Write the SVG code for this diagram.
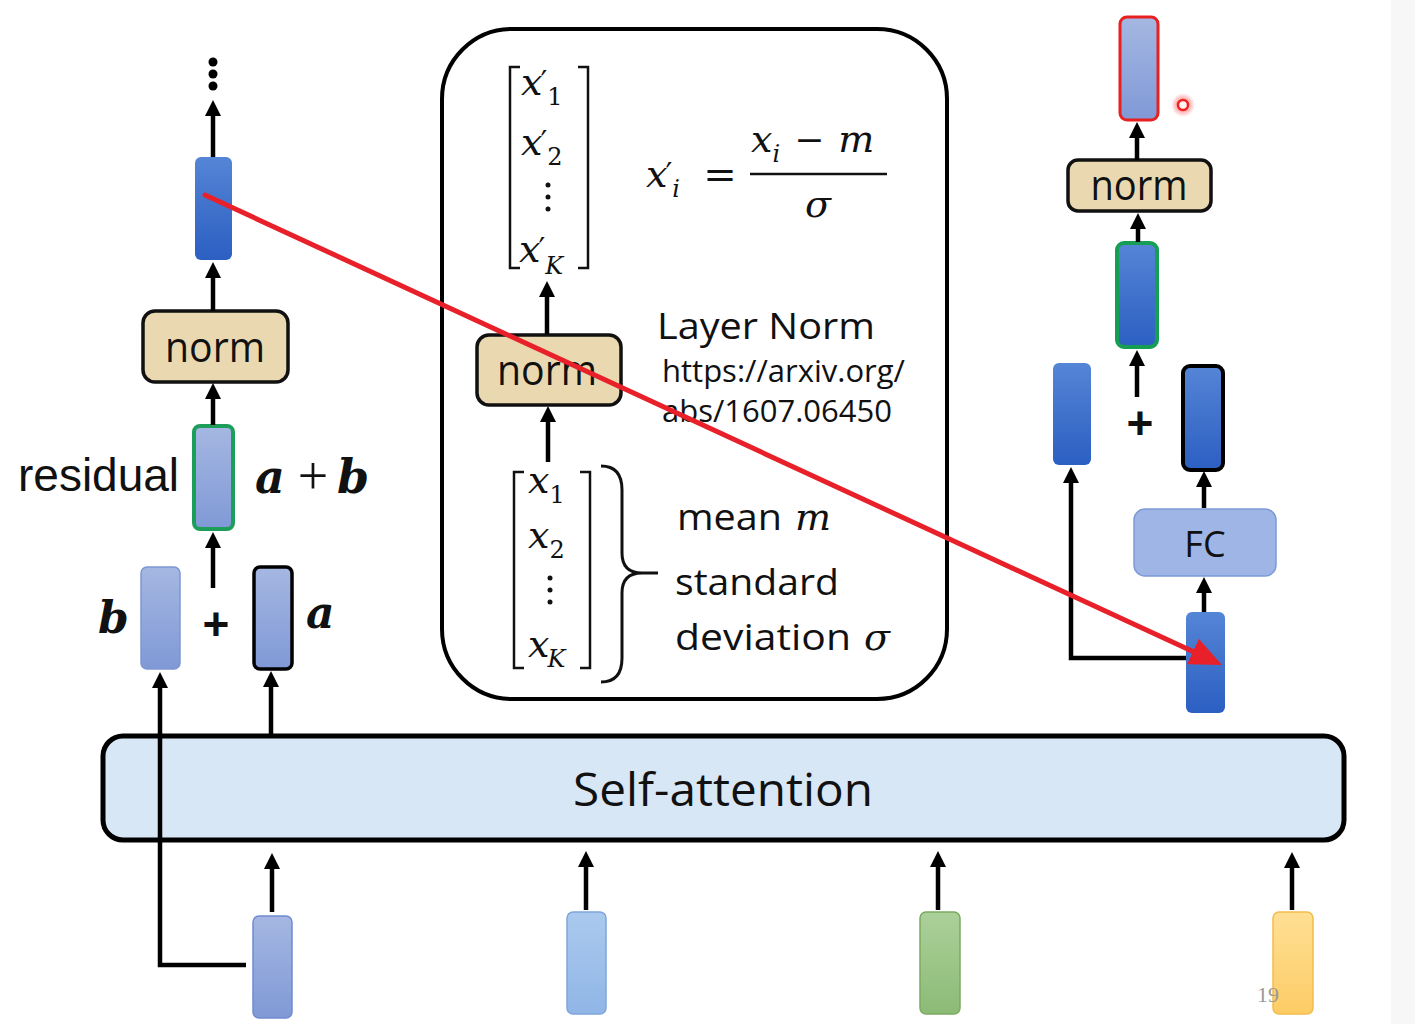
<svg xmlns="http://www.w3.org/2000/svg" width="1415" height="1024" viewBox="0 0 1415 1024">
<style>
.ar{fill:none;stroke:#000;stroke-width:4.5;marker-end:url(#ah)}
.norm{fill:#ead9b0;stroke:#111;stroke-width:3.5}
.normt{font-family:"Open Sans","Noto Sans",sans-serif;font-size:42px;fill:#111;text-anchor:middle}
.sans{font-family:"Open Sans","Noto Sans",sans-serif;fill:#111}
.math{font-family:"DejaVu Serif","Liberation Serif",serif;font-style:italic;fill:#111}
.up{font-family:"DejaVu Serif","Liberation Serif",serif;fill:#111}
.pr{font-style:normal;font-size:30px}
.sub{font-size:24px}
.subu{font-style:normal;font-size:24px}
.bi{font-family:"DejaVu Serif","Liberation Serif",serif;font-style:italic;font-weight:bold;fill:#111}
.plus{font-family:"Liberation Sans",Arial,sans-serif;font-weight:bold;font-size:46px;fill:#111;text-anchor:middle}
.br{fill:none;stroke:#111;stroke-width:2.5}
.dark{fill:url(#gDark)}
.light{fill:url(#gLight);stroke:#7d97d3;stroke-width:1.5}
</style>
<defs>
<marker id="ah" markerUnits="userSpaceOnUse" markerWidth="16" markerHeight="16" refX="6" refY="8" orient="auto">
<path d="M0,0 L16,8 L0,16 z" fill="#000"/>
</marker>
<marker id="rah" markerUnits="userSpaceOnUse" markerWidth="32" markerHeight="28" refX="12" refY="14" orient="auto">
<path d="M0,0 L32,14 L0,28 z" fill="#e8202a"/>
</marker>
<linearGradient id="gDark" x1="0" y1="0" x2="0" y2="1"><stop offset="0" stop-color="#5585d6"/><stop offset="1" stop-color="#2b5fc2"/></linearGradient>
<linearGradient id="gLight" x1="0" y1="0" x2="0" y2="1"><stop offset="0" stop-color="#a5b7e2"/><stop offset="1" stop-color="#8099d6"/></linearGradient>
<linearGradient id="gSky" x1="0" y1="0" x2="0" y2="1"><stop offset="0" stop-color="#abc9ee"/><stop offset="1" stop-color="#90b6e6"/></linearGradient>
<linearGradient id="gGreen" x1="0" y1="0" x2="0" y2="1"><stop offset="0" stop-color="#acd09a"/><stop offset="1" stop-color="#8cbb76"/></linearGradient>
<linearGradient id="gYellow" x1="0" y1="0" x2="0" y2="1"><stop offset="0" stop-color="#ffdf94"/><stop offset="1" stop-color="#fdcc66"/></linearGradient>
<radialGradient id="glow"><stop offset="0.4" stop-color="#ff3030" stop-opacity="0.5"/><stop offset="1" stop-color="#ff3030" stop-opacity="0"/></radialGradient>
</defs>

<rect x="0" y="0" width="1415" height="1024" fill="#fff"/>
<rect x="1391" y="0" width="24" height="1024" fill="#f7f7f7"/>

<g id="self-attention">
<rect x="103" y="736" width="1241" height="104" rx="20" fill="#d8e7f6" stroke="#000" stroke-width="5"/>
<text class="sans" x="723" y="806" font-size="46" text-anchor="middle" textLength="300" lengthAdjust="spacingAndGlyphs">Self-attention</text>
</g>

<g id="inputs">
<rect id="in1" x="253" y="916" width="39" height="102" rx="6" fill="url(#gLight)" stroke="#6f8bcf" stroke-width="1.5"/>
<rect id="in2" x="567" y="912" width="39" height="102" rx="6" fill="url(#gSky)" stroke="#7ea6dc" stroke-width="1.5"/>
<rect id="in3" x="920" y="912" width="40" height="102" rx="6" fill="url(#gGreen)" stroke="#7aab63" stroke-width="1.5"/>
<rect id="in4" x="1273" y="912" width="40" height="102" rx="6" fill="url(#gYellow)" stroke="#f2bd4a" stroke-width="1.5"/>
<text x="1257" y="1002" font-family="'Liberation Serif',serif" font-size="22" fill="#999">19</text>
</g>

<g id="left-column">
<circle cx="213" cy="62" r="4.5" fill="#000"/>
<circle cx="213" cy="74" r="4.5" fill="#000"/>
<circle cx="213" cy="86" r="4.5" fill="#000"/>
<rect id="l-out" x="195" y="157" width="37" height="103" rx="6" class="dark"/>
<g id="l-norm"><rect x="143" y="311" width="145" height="71" rx="12" class="norm"/><text class="normt" x="215" y="362" textLength="100" lengthAdjust="spacingAndGlyphs">norm</text></g>
<rect id="l-sum" x="194" y="426" width="39" height="103" rx="6" fill="url(#gLight)" stroke="#1c9e5a" stroke-width="4"/>
<text x="18" y="491" font-family="'Liberation Sans',Arial,sans-serif" font-size="46" fill="#111">residual</text>
<text class="bi" x="255" y="493" font-size="46">a</text>
<text x="313" y="494" font-family="'Liberation Serif',serif" font-size="54" fill="#111" text-anchor="middle">+</text>
<text class="bi" x="337" y="493" font-size="46">b</text>
<rect id="l-b" x="141" y="567" width="39" height="102" rx="6" class="light"/>
<rect id="l-a" x="254" y="567" width="38" height="102" rx="6" fill="url(#gLight)" stroke="#000" stroke-width="3.5"/>
<text class="bi" x="98" y="633" font-size="44">b</text>
<text class="bi" x="306" y="628" font-size="44">a</text>
<text class="plus" x="216" y="640">+</text>
</g>

<g id="layer-norm-box">
<rect x="442" y="29" width="505" height="670" rx="70" fill="none" stroke="#000" stroke-width="4"/>
<path class="br" d="M520,67 H510 V268 H520 M578,67 H588 V268 H578"/>
<text class="math" x="521" y="95" font-size="38">x<tspan class="pr" dx="-2" dy="-3">′</tspan><tspan class="subu" dx="0" dy="13">1</tspan></text>
<text class="math" x="521" y="155" font-size="38">x<tspan class="pr" dx="-2" dy="-3">′</tspan><tspan class="subu" dx="0" dy="13">2</tspan></text>
<circle cx="548" cy="185" r="2.5" fill="#111"/><circle cx="548" cy="197" r="2.5" fill="#111"/><circle cx="548" cy="209" r="2.5" fill="#111"/>
<text class="math" x="519" y="262" font-size="38">x<tspan class="pr" dx="-2" dy="-3">′</tspan><tspan class="sub" dx="0" dy="15">K</tspan></text>

<text class="math" x="646" y="187" font-size="38">x<tspan class="pr" dx="-2" dy="-3">′</tspan><tspan class="sub" dx="0" dy="13">i</tspan></text>
<text class="up" x="720" y="188" font-size="40" text-anchor="middle">=</text>
<text class="math" x="751" y="152" font-size="38">x<tspan class="sub" dy="10">i</tspan><tspan font-style="normal" font-size="36" dx="14" dy="-10">−</tspan><tspan dx="14">m</tspan></text>
<line x1="750" y1="174" x2="887" y2="174" stroke="#111" stroke-width="2.5"/>
<text class="math" x="818" y="217" font-size="38" text-anchor="middle">σ</text>

<g id="c-norm"><rect x="477" y="335" width="144" height="70" rx="12" class="norm"/><text class="normt" x="547" y="385" textLength="100" lengthAdjust="spacingAndGlyphs">norm</text></g>

<text class="sans" x="657" y="339" font-size="37" textLength="218" lengthAdjust="spacingAndGlyphs">Layer Norm</text>
<text class="sans" x="662" y="382" font-size="31" textLength="243" lengthAdjust="spacingAndGlyphs">https://arxiv.org/</text>
<text class="sans" x="662" y="422" font-size="31" textLength="230" lengthAdjust="spacingAndGlyphs">abs/1607.06450</text>

<path class="br" d="M524,472 H514 V668 H524 M580,472 H590 V668 H580"/>
<text class="math" x="528" y="493" font-size="38">x<tspan class="subu" dx="0" dy="10">1</tspan></text>
<text class="math" x="528" y="548" font-size="38">x<tspan class="subu" dx="0" dy="10">2</tspan></text>
<circle cx="550" cy="578" r="2.5" fill="#111"/><circle cx="550" cy="590" r="2.5" fill="#111"/><circle cx="550" cy="602" r="2.5" fill="#111"/>
<text class="math" x="528" y="657" font-size="38">x<tspan class="sub" dx="-2" dy="10">K</tspan></text>
<path d="M601,466 Q622,466 622,490 L622,553 Q622,573 642,573 L658,573 M642,573 Q622,573 622,593 L622,658 Q622,682 601,682" fill="none" stroke="#111" stroke-width="3"/>

<text class="sans" x="677" y="530" font-size="37"><tspan textLength="105" lengthAdjust="spacingAndGlyphs">mean</tspan><tspan class="math" x="795" font-size="38">m</tspan></text>
<text class="sans" x="675" y="595" font-size="37" textLength="164" lengthAdjust="spacingAndGlyphs">standard</text>
<text class="sans" x="675" y="650" font-size="37"><tspan textLength="176" lengthAdjust="spacingAndGlyphs">deviation</tspan><tspan class="math" x="864" font-size="38">σ</tspan></text>
</g>

<g id="right-column">
<rect id="r-out" x="1120" y="17" width="38" height="103" rx="7" fill="url(#gLight)" stroke="#e82020" stroke-width="3"/>
<circle cx="1183" cy="105" r="12" fill="url(#glow)"/>
<circle cx="1183" cy="105" r="5" fill="#fff3f3" stroke="#ee2222" stroke-width="2.5"/>
<g id="r-norm"><rect x="1068" y="160" width="143" height="51" rx="10" class="norm"/><text class="normt" x="1139" y="200" textLength="97" lengthAdjust="spacingAndGlyphs">norm</text></g>
<rect id="r-sum" x="1117" y="243" width="40" height="104" rx="7" class="dark" stroke="#169e55" stroke-width="4"/>
<text class="plus" x="1140" y="439">+</text>
<rect id="r-b" x="1053" y="363" width="38" height="102" rx="6" class="dark"/>
<rect id="r-a" x="1183" y="366" width="40" height="104" rx="7" class="dark" stroke="#000" stroke-width="4"/>
<g id="r-fc"><rect x="1134" y="509" width="142" height="67" rx="11" fill="#9fb5e5" stroke="#7d9ad6" stroke-width="1.5"/><text class="sans" x="1205" y="557" font-size="36" text-anchor="middle">FC</text></g>
<rect id="r-in" x="1186" y="612" width="39" height="101" rx="6" class="dark"/>
</g>

<g id="connectors">
<line class="ar" x1="213" y1="157" x2="213" y2="110"/>
<line class="ar" x1="213" y1="311" x2="213" y2="272"/>
<line class="ar" x1="213" y1="425" x2="213" y2="393"/>
<line class="ar" x1="213" y1="588" x2="213" y2="542"/>
<path class="ar" d="M246,965 H160 V682"/>
<line class="ar" x1="271" y1="735" x2="271" y2="681"/>
<line class="ar" x1="272" y1="912" x2="272" y2="863"/>
<line class="ar" x1="586" y1="910" x2="586" y2="861"/>
<line class="ar" x1="938" y1="910" x2="938" y2="861"/>
<line class="ar" x1="1292" y1="910" x2="1292" y2="862"/>
<line class="ar" x1="547" y1="334" x2="547" y2="291"/>
<line class="ar" x1="548" y1="462" x2="548" y2="416"/>
<line class="ar" x1="1137" y1="160" x2="1137" y2="132"/>
<line class="ar" x1="1138" y1="242" x2="1138" y2="223"/>
<line class="ar" x1="1137" y1="397" x2="1137" y2="360"/>
<line class="ar" x1="1204" y1="508" x2="1204" y2="481"/>
<line class="ar" x1="1204" y1="612" x2="1204" y2="587"/>
<path class="ar" d="M1186,658 H1071 V477"/>
<line x1="205" y1="195" x2="1203.8" y2="656.6" stroke="#e8202a" stroke-width="5" stroke-linecap="round" marker-end="url(#rah)"/>
</g>
</svg>
